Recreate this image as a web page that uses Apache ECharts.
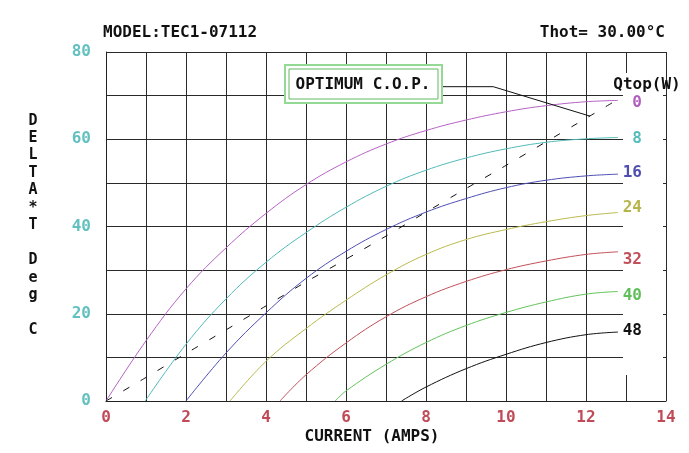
<!DOCTYPE html>
<html>
<head>
<meta charset="utf-8">
<script src="https://cdn.jsdelivr.net/npm/echarts@6/dist/echarts.min.js"></script>
<style>html,body{margin:0;padding:0;background:#fff}#c{width:689px;height:453px}</style>
</head>
<body>
<div id="c"></div>
<script>
// ---- data ----
var xTickLabels = [0, 2, 4, 6, 8, 10, 12, 14];
var yTickLabels = [0, 20, 40, 60, 80];
var qtopNames = ['0', '8', '16', '24', '32', '40', '48'];
var q0  = [[0,0],[1,13.8],[2,25.7],[3,35.1],[4,43],[5,49.6],[6,54.8],[7,58.9],[8,62.0],[9,64.4],[10,66.3],[11,67.7],[12,68.6],[12.8,68.9]];
var q8  = [[0.98,0],[2,13],[3,23.4],[4,31.8],[5,38.6],[6,44.4],[7,49.2],[8,52.9],[9,55.7],[10,57.8],[11,59.3],[12,60.1],[12.8,60.4]];
var q16 = [[2,0],[3,11],[4,20.2],[5,28.1],[6,34.3],[7,39.3],[8,43.3],[9,46.4],[10,48.9],[11,50.6],[12,51.6],[12.8,52]];
var q24 = [[3.1,0],[4,9.1],[5,16.6],[6,23.1],[7,28.9],[8,33.6],[9,37.0],[10,39.3],[11,41.1],[12,42.5],[12.8,43.2]];
var q32 = [[4.35,0],[5,6.0],[6,13.3],[7,19.3],[8,23.9],[9,27.4],[10,30.1],[11,32.1],[12,33.6],[12.8,34.2]];
var q40 = [[5.73,0],[6,2.3],[7,8.4],[8,13.4],[9,17.3],[10,20.3],[11,22.7],[12,24.5],[12.8,25.1]];
var q48 = [[7.39,0],[8,3.2],[9,7.4],[10,10.7],[11,13.4],[12,15.2],[12.8,15.8]];
var optimumCop = [[0,0],[1,5.4],[2,10.9],[3,16.3],[4,21.8],[5,27.3],[6,32.5],[7,37.8],[8,43.3],[9,48.7],[10,54],[11,59.4],[12,64.8],[12.7,68.6]];
var copLeader = [[8.4,72.05],[9.68,72.05],[12.1,65.3]];

// ---- styles ----
var FONT = '"DejaVu Sans Mono", "Liberation Mono", monospace';
var curveColors = ['#b562c4', '#52b9b9', '#4e4eb4', '#b9b94e', '#c05058', '#62c25a', '#111111'];
var labelColors = ['#b05cc0', '#55bcbc', '#4e4eb0', '#b5b54a', '#c0505a', '#5fc05a', '#111111'];
var labelDy = [2, 1, -1, -5, 8, 4, -1];
var curves = [q0, q8, q16, q24, q32, q40, q48];

var series = curves.map(function (d, i) {
  return {
    type: 'line', name: qtopNames[i], data: d, smooth: 0.4, showSymbol: false, z: 3,
    lineStyle: { color: curveColors[i], width: 1 },
    endLabel: {
      show: true, formatter: qtopNames[i], color: labelColors[i],
      fontFamily: FONT, fontWeight: 'bold', fontSize: 16,
      distance: 24, align: 'right', offset: [0, labelDy[i]]
    }
  };
});
series.push({
  type: 'line', name: 'cop', data: optimumCop, smooth: 0.2, showSymbol: false, z: 3,
  lineStyle: { color: '#111', width: 1, type: [7, 13] }
});
series.push({
  type: 'line', name: 'leader', data: copLeader, showSymbol: false, z: 3,
  lineStyle: { color: '#111', width: 1 }
});

var chart = echarts.init(document.getElementById('c'), null, { renderer: 'canvas' });
chart.setOption({
  animation: false,
  backgroundColor: '#fff',
  grid: { left: 106, right: 23, top: 52, bottom: 52, containLabel: false },
  xAxis: {
    type: 'value', min: 0, max: 14, interval: 1,
    axisLine: { show: true, lineStyle: { color: '#222', width: 1 } },
    axisTick: { show: false },
    splitLine: { show: true, lineStyle: { color: '#2a2a2a', width: 1 } },
    axisLabel: {
      margin: 9, color: '#c04a58', fontFamily: FONT, fontWeight: 'bold', fontSize: 16,
      formatter: function (v) { return xTickLabels.indexOf(v) >= 0 ? String(v) : ''; }
    }
  },
  yAxis: {
    type: 'value', min: 0, max: 80, interval: 10,
    axisLine: { show: true, lineStyle: { color: '#222', width: 1 } },
    axisTick: { show: false },
    splitLine: { show: true, lineStyle: { color: '#2a2a2a', width: 1 } },
    axisLabel: {
      margin: 15, color: '#62c0c0', fontFamily: FONT, fontWeight: 'bold', fontSize: 16,
      formatter: function (v) { return yTickLabels.indexOf(v) >= 0 ? String(v) : ''; }
    }
  },
  graphic: [
    // label column (hides grid lines between 13 and 14 A)
    { type: 'rect', z: 1, shape: { x: 623, y: 73, width: 40, height: 302 }, style: { fill: '#fff' } },
    // OPTIMUM C.O.P. box
    { type: 'rect', z: 4, shape: { x: 285, y: 65, width: 157, height: 38 }, style: { fill: '#fff', stroke: '#94da94', lineWidth: 2 } },
    { type: 'rect', z: 4, shape: { x: 289, y: 69, width: 149, height: 30 }, style: { fill: '#fff', stroke: '#62b862', lineWidth: 1 } },
    { type: 'text', z: 5, x: 363, y: 85, style: { text: 'OPTIMUM C.O.P.', fill: '#111', font: 'bold 16px ' + FONT, textAlign: 'center', textVerticalAlign: 'middle' } },
    // titles
    { type: 'text', z: 5, x: 103, y: 33, style: { text: 'MODEL:TEC1-07112', fill: '#111', font: 'bold 16px ' + FONT, textAlign: 'left', textVerticalAlign: 'middle' } },
    { type: 'text', z: 5, x: 665, y: 33, style: { text: 'Thot= 30.00°C', fill: '#111', font: 'bold 16px ' + FONT, textAlign: 'right', textVerticalAlign: 'middle' } },
    { type: 'text', z: 5, x: 372, y: 437, style: { text: 'CURRENT (AMPS)', fill: '#111', font: 'bold 16px ' + FONT, textAlign: 'center', textVerticalAlign: 'middle' } },
    { type: 'text', z: 5, x: 647, y: 85, style: { text: 'Qtop(W)', fill: '#111', font: 'bold 16px ' + FONT, textAlign: 'center', textVerticalAlign: 'middle' } },
    { type: 'text', z: 5, x: 33, y: 112, style: { text: 'D\nE\nL\nT\nA\n*\nT\n \nD\ne\ng\n \nC', fill: '#111', font: 'bold 15px ' + FONT, lineHeight: 17.44, textAlign: 'center', textVerticalAlign: 'top' } }
  ],
  series: series
});
</script>
</body>
</html>
